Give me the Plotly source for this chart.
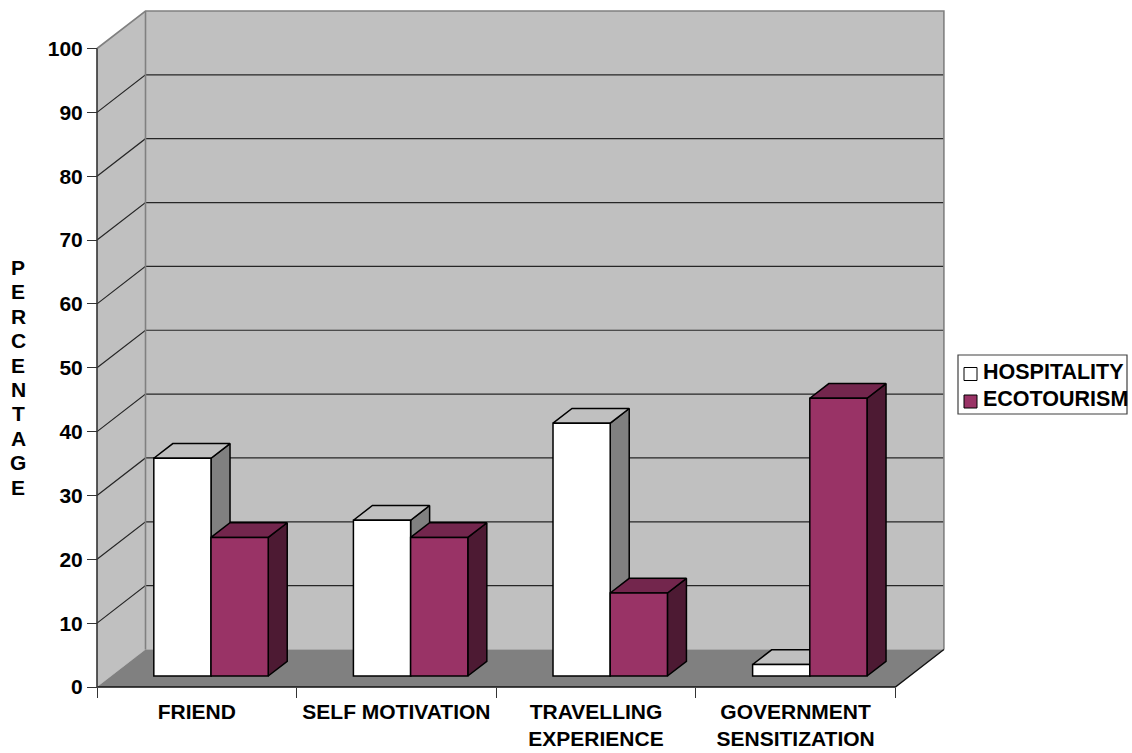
import plotly.graph_objects as go

# ---- data -------------------------------------------------------------
categories = ["FRIEND", "SELF MOTIVATION", "TRAVELLING<br>EXPERIENCE", "GOVERNMENT<br>SENSITIZATION"]
series_names = ["HOSPITALITY", "ECOTOURISM"]
hospitality = [34.1, 24.4, 39.6, 1.8]
ecotourism = [21.7, 21.7, 13.0, 43.5]
y_ticks = [0, 10, 20, 30, 40, 50, 60, 70, 80, 90, 100]
axis_title = "PERCENTAGE"

# ---- styling ----------------------------------------------------------
WALL = "#C0C0C0"
FLOOR = "#808080"
EDGE = "#808080"
GRID = "#262626"
front_colors = ["#FFFFFF", "#993366"]
top_colors = ["#C0C0C0", "#73264D"]
side_colors = ["#808080", "#4D1A33"]
FONT = "Liberation Sans, Arial, sans-serif"
LABEL_SIZE = 21.5

W, H = 1132, 753
# pixel position of the data origin and pixels per data unit
PX0, PY0 = 97, 687
SX, SY = 199.6, 6.385
# plot area in pixels (slightly larger than the box so outlines are not clipped)
PL, PR, PT, PB = 92, 950, 6, 690

n = len(categories)
YMAX = 100
DX = 48.5 / SX        # receding depth, x units
DY = 37.5 / SY        # receding depth, y units
Z0, Z1 = 0.293, 0.685  # front/back depth of the bars (fraction of floor depth)
BW = 0.2866           # bar width in category units


def px_x(p):
    return (p - PL) / (PR - PL)


def px_y(p):
    return (PB - p) / (PB - PT)


fig = go.Figure()


def poly(xs, ys, fill, line_color, width, z):
    fig.add_trace(go.Scatter(
        x=list(xs) + [xs[0]], y=list(ys) + [ys[0]], mode="lines", fill="toself",
        fillcolor=fill, line=dict(color=line_color, width=width),
        hoverinfo="skip", showlegend=False, zorder=z))


def seg(xs, ys, color, width, z):
    fig.add_trace(go.Scatter(
        x=xs, y=ys, mode="lines", line=dict(color=color, width=width),
        hoverinfo="skip", showlegend=False, zorder=z))


# walls and floor
poly([0, DX, DX, 0], [0, DY, YMAX + DY, YMAX], WALL, WALL, 0.1, 0)
poly([DX, n + DX, n + DX, DX], [DY, DY, YMAX + DY, YMAX + DY], WALL, WALL, 0.1, 0)
poly([0, n, n + DX, DX], [0, 0, DY, DY], FLOOR, FLOOR, 0.1, 0)

# gridlines: diagonal on the side wall, horizontal on the back wall
for v in y_ticks[1:-1]:
    seg([0, DX, n + DX], [v, v + DY, v + DY], GRID, 1.2, 1)

# wall edges
seg([0, DX, n + DX, n + DX], [YMAX, YMAX + DY, YMAX + DY, DY], EDGE, 1.6, 1)
seg([DX, DX], [DY, YMAX + DY], EDGE, 1.6, 1)
# floor front edge and right edge, value axis line
seg([0, n, n + DX], [0, 0, DY], "#111111", 1.4, 2)
seg([0, 0], [0, YMAX], "#333333", 1.6, 2)

# bars: side + top faces as polygons, front faces as bar traces
ddx = (Z1 - Z0) * DX
ddy = (Z1 - Z0) * DY
base = Z0 * DY
for s, vals in enumerate([hospitality, ecotourism]):
    centers = []
    for i, v in enumerate(vals):
        xl = i + 0.5 + Z0 * DX - BW + s * BW
        xr = xl + BW
        top = base + v
        poly([xr, xr + ddx, xr + ddx, xr], [base, base + ddy, top + ddy, top],
             side_colors[s], "black", 1.5, 10 + 2 * s)
        poly([xl, xr, xr + ddx, xl + ddx], [top, top, top + ddy, top + ddy],
             top_colors[s], "black", 1.5, 10 + 2 * s)
        centers.append((xl + xr) / 2)
    fig.add_trace(go.Bar(
        x=centers, y=vals, base=base, width=BW, name=series_names[s],
        marker=dict(color=front_colors[s], line=dict(color="black", width=1.5)),
        showlegend=False, zorder=11 + 2 * s))

# legend box
lx0, lx1, ly0, ly1 = 958, 1127, 355, 414
fig.add_shape(type="rect", xref="paper", yref="paper",
              x0=px_x(lx0), x1=px_x(lx1), y0=px_y(ly1), y1=px_y(ly0),
              line=dict(color="#404040", width=1.2), fillcolor="white")
for s, name in enumerate(series_names):
    cy = 374 + 27.5 * s
    fig.add_shape(type="rect", xref="paper", yref="paper",
                  x0=px_x(964), x1=px_x(977), y0=px_y(cy + 6.5), y1=px_y(cy - 6.5),
                  line=dict(color="black", width=1), fillcolor=front_colors[s])
    fig.add_annotation(x=px_x(981), y=px_y(cy - 2), xref="paper", yref="paper",
                       text=name, showarrow=False, xanchor="left", yanchor="middle",
                       font=dict(family=FONT, size=LABEL_SIZE, color="black", weight="bold"))

# vertical axis title, one letter per line
for k, ch in enumerate(axis_title):
    fig.add_annotation(x=px_x(18), y=px_y(267.5 + 24.4 * k), xref="paper", yref="paper",
                       text=ch, showarrow=False, xanchor="center", yanchor="middle",
                       font=dict(family=FONT, size=21, color="black", weight="bold"))

fig.update_layout(
    width=W, height=H,
    margin=dict(l=PL, r=W - PR, t=PT, b=H - PB, pad=0, autoexpand=False),
    paper_bgcolor="white", plot_bgcolor="rgba(0,0,0,0)",
    barmode="overlay", showlegend=False,
    xaxis=dict(
        range=[(PL - PX0) / SX, (PR - PX0) / SX],
        anchor="free", position=px_y(PY0), automargin=False,
        tickmode="array", tickvals=[i + 0.5 for i in range(n)], ticktext=categories,
        ticks="", showgrid=False, zeroline=False, showline=False,
        tickfont=dict(family=FONT, size=21, color="black", weight="bold"),
        ticklabelstandoff=10,
        minor=dict(tickmode="array", tickvals=list(range(n + 1)), ticks="outside",
                   ticklen=10, tickcolor="#333333", tickwidth=1.4, showgrid=False),
    ),
    yaxis=dict(
        range=[(PY0 - PB) / SY, (PY0 - PT) / SY],
        anchor="free", position=px_x(PX0), automargin=False,
        tickmode="array", tickvals=y_ticks, ticktext=[str(t) for t in y_ticks],
        ticks="outside", ticklen=10, tickcolor="#333333", tickwidth=1.4,
        showgrid=False, zeroline=False, showline=False,
        tickfont=dict(family=FONT, size=21, color="black", weight="bold"),
    ),
)

fig.write_html("out.html")
